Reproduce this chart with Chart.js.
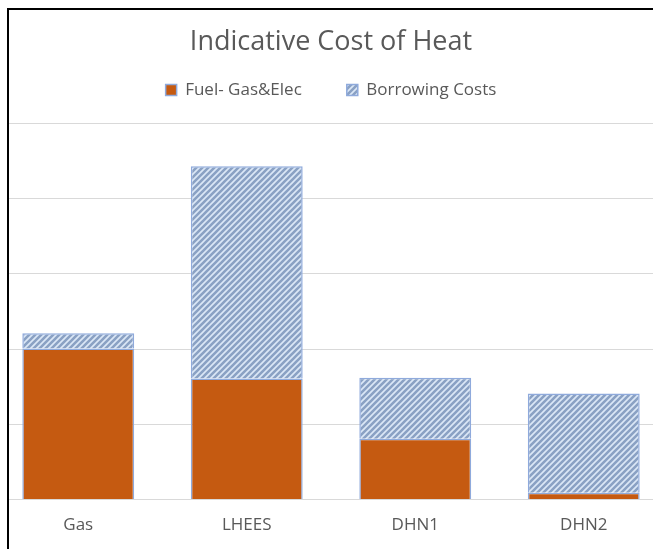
<!DOCTYPE html>
<html>
<head>
<meta charset="utf-8">
<script src="https://cdn.jsdelivr.net/npm/chart.js@4"></script>
<style>
  body { margin: 0; background: #fff; overflow: hidden; }
  #frame {
    position: absolute; left: 7px; top: 8px;
    width: 700px; height: 600px;
    border-left: 2px solid #000; border-top: 2px solid #000;
    overflow: hidden;
  }
  #wrap { position: absolute; left: -29px; top: -10px; width: 702px; height: 549px; }
</style>
</head>
<body>
<div id="frame"><div id="wrap"><canvas id="myChart"></canvas></div></div>
<script>
let categories = ["Gas", "LHEES", "DHN1", "DHN2"];
let fuelCosts = [20.1, 16.1, 8.1, 0.9];
let borrowingCosts = [2, 28.2, 8.1, 13.2];
let gridValues = [0, 10, 20, 30, 40, 50];

// diagonal hatch like Excel's wide upward diagonal fill
function hatch() {
    let c = document.createElement("canvas");
    c.width = 6; c.height = 6;
    let g = c.getContext("2d");
    g.fillStyle = "#dbe7f6";
    g.fillRect(0, 0, 6, 6);
    g.strokeStyle = "#8aa1c4";
    g.lineWidth = 2.6;
    g.beginPath();
    g.moveTo(-1, 7); g.lineTo(7, -1);
    g.moveTo(-4, 4); g.lineTo(4, -4);
    g.moveTo(2, 10); g.lineTo(10, 2);
    g.stroke();
    return g.createPattern(c, "repeat");
}

let ctx = document.getElementById("myChart").getContext("2d");
let myChart = new Chart(ctx, {
    type: "bar",
    data: {
        labels: categories,
        datasets: [
            {
                label: "Fuel- Gas&Elec",
                data: fuelCosts,
                backgroundColor: "#c55a11",
                borderColor: "#8faadc",
                borderWidth: 1.5,
            },
            {
                label: "Borrowing Costs",
                data: borrowingCosts,
                backgroundColor: hatch(),
                borderColor: "#8faadc",
                borderWidth: 1.5,
            },
        ],
    },
    options: {
        responsive: true,
        maintainAspectRatio: false,
        animation: false,
        layout: { padding: { left: 14, right: 14, top: 10, bottom: 7 } },
        datasets: { bar: { categoryPercentage: 1, barPercentage: 0.664 } },
        plugins: {
            title: {
                display: true,
                text: "Indicative Cost of Heat",
                color: "#595959",
                font: { family: "Open Sans", size: 27, weight: "normal" },
                padding: { top: 16, bottom: -22 },
            },
            legend: {
                labels: {
                    color: "#595959",
                    font: { family: "Open Sans", size: 17 },
                    boxWidth: 11,
                    boxHeight: 11,
                    padding: 45,
                },
            },
            tooltip: { enabled: false },
        },
        scales: {
            x: {
                stacked: true,
                grid: { display: false },
                border: { color: "#d9d9d9" },
                ticks: { color: "#595959", font: { family: "Open Sans", size: 17 }, padding: 7 },
            },
            y: {
                stacked: true,
                min: 0,
                max: 52,
                afterBuildTicks: (axis) => {
                    axis.ticks = gridValues.map((v) => ({ value: v }));
                },
                ticks: { display: false },
                grid: { color: "#d9d9d9", drawTicks: false },
                border: { display: false },
            },
        },
    },
});
</script>
</body>
</html>
